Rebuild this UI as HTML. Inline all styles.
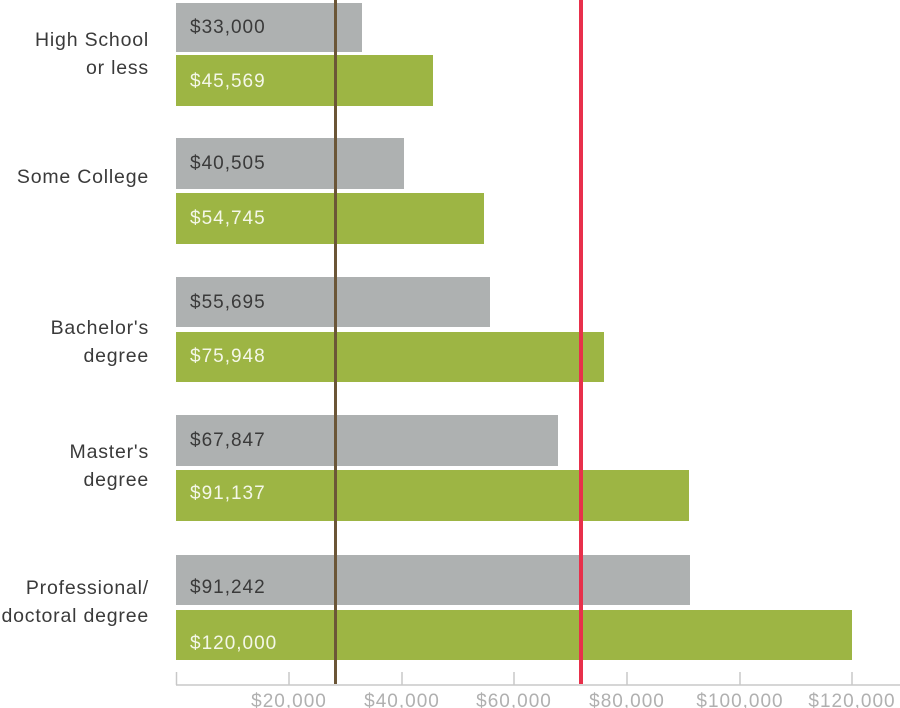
<!DOCTYPE html>
<html><head><meta charset="utf-8"><style>
html,body{margin:0;padding:0;background:#fff}
svg{display:block;font-family:"Liberation Sans",sans-serif}
</style></head><body>
<svg width="900" height="708" viewBox="0 0 900 708">
<g fill="#aeb1b1">
<rect x="176" y="3" width="186" height="49"/>
<rect x="176" y="138" width="228" height="51"/>
<rect x="176" y="277" width="314" height="50"/>
<rect x="176" y="415" width="382" height="51"/>
<rect x="176" y="555" width="514" height="50"/>
</g>
<g fill="#9db544">
<rect x="176" y="55" width="257" height="51"/>
<rect x="176" y="193" width="308" height="51"/>
<rect x="176" y="332" width="428" height="50"/>
<rect x="176" y="470" width="513" height="51"/>
<rect x="176" y="610" width="676" height="50"/>
</g>
<g font-size="19" fill="#3a3a3a" letter-spacing="1">
<text x="190" y="33">$33,000</text>
<text x="190" y="169">$40,505</text>
<text x="190" y="308">$55,695</text>
<text x="190" y="446">$67,847</text>
<text x="190" y="593">$91,242</text>
</g>
<g font-size="19" fill="#f4f7e8" letter-spacing="1">
<text x="190" y="87">$45,569</text>
<text x="190" y="224">$54,745</text>
<text x="190" y="362">$75,948</text>
<text x="190" y="499">$91,137</text>
<text x="190" y="649">$120,000</text>
</g>
<g font-size="19.5" fill="#3a3a3a" text-anchor="end" letter-spacing="0.8">
<text x="149" y="46">High School</text>
<text x="149" y="74">or less</text>
<text x="149" y="183">Some College</text>
<text x="149" y="334">Bachelor's</text>
<text x="149" y="362">degree</text>
<text x="149" y="458">Master's</text>
<text x="149" y="486">degree</text>
<text x="149" y="594">Professional/</text>
<text x="149" y="622">doctoral degree</text>
</g>
<g stroke="#c8c8c8" stroke-width="1.5">
<line x1="176" y1="685" x2="900" y2="685"/>
<line x1="176.5" y1="672" x2="176.5" y2="685"/>
<line x1="289" y1="672" x2="289" y2="685"/>
<line x1="402" y1="672" x2="402" y2="685"/>
<line x1="514" y1="672" x2="514" y2="685"/>
<line x1="627" y1="672" x2="627" y2="685"/>
<line x1="740" y1="672" x2="740" y2="685"/>
<line x1="852" y1="672" x2="852" y2="685"/>
</g>
<g font-size="19" fill="#b0b0b0" text-anchor="middle" letter-spacing="1">
<text x="289" y="707">$20,000</text>
<text x="402" y="707">$40,000</text>
<text x="514" y="707">$60,000</text>
<text x="627" y="707">$80,000</text>
<text x="740" y="707">$100,000</text>
<text x="852" y="707">$120,000</text>
</g>
<rect x="334" y="0" width="3" height="684" fill="#6b5637"/>
<rect x="579" y="0" width="4" height="684" fill="#e8304b"/>
</svg>
</body></html>
